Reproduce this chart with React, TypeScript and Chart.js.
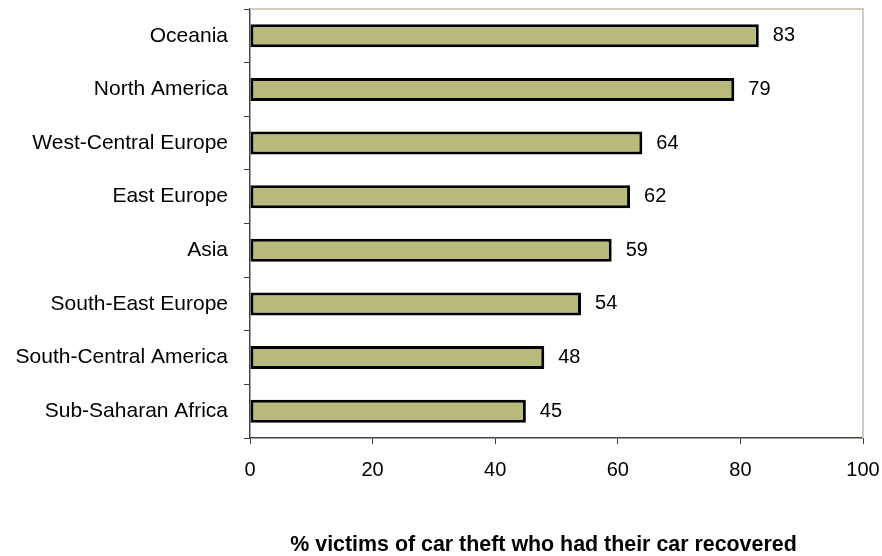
import React, { useEffect, useRef } from "react";
import { Chart, registerables } from "chart.js";

Chart.register(...registerables);

const regions = [
  "Oceania",
  "North America",
  "West-Central Europe",
  "East Europe",
  "Asia",
  "South-East Europe",
  "South-Central America",
  "Sub-Saharan Africa",
];
const recovered = [83, 79, 64, 62, 59, 54, 48, 45];
const xTitle = "% victims of car theft who had their car recovered";

const FONT = "'Liberation Sans', Arial, sans-serif";

const valueLabels = {
  id: "valueLabels",
  afterDatasetsDraw(chart: any) {
    const ctx = chart.ctx;
    const meta = chart.getDatasetMeta(0);
    ctx.save();
    ctx.font = `20px ${FONT}`;
    ctx.fillStyle = "#000";
    ctx.textAlign = "left";
    ctx.textBaseline = "middle";
    meta.data.forEach((bar: any, i: number) => {
      ctx.fillText(String(chart.data.datasets[0].data[i]), bar.x + 14, bar.y);
    });
    ctx.restore();
  },
};

const frame = {
  id: "frame",
  beforeDatasetsDraw(chart: any) {
    const { ctx, chartArea } = chart;
    ctx.save();
    ctx.strokeStyle = "#d3cbc1";
    ctx.lineWidth = 2;
    ctx.beginPath();
    ctx.moveTo(chartArea.left, chartArea.top);
    ctx.lineTo(chartArea.right, chartArea.top);
    ctx.lineTo(chartArea.right, chartArea.bottom);
    ctx.stroke();
    ctx.restore();
  },
};

const axisTitle = {
  id: "axisTitle",
  afterDraw(chart: any) {
    const { ctx, chartArea } = chart;
    ctx.save();
    ctx.font = `bold 21.4px ${FONT}`;
    ctx.fillStyle = "#000";
    ctx.textAlign = "center";
    ctx.textBaseline = "middle";
    ctx.fillText(xTitle, (chartArea.left + chartArea.right) / 2 - 13, chart.height - 11);
    ctx.restore();
  },
};

export default function App() {
  const ref = useRef<HTMLCanvasElement>(null);
  useEffect(() => {
    if (!ref.current) return;
    const chart = new Chart(ref.current, {
      type: "bar",
      data: {
        labels: regions,
        datasets: [
          {
            data: recovered,
            backgroundColor: "#b8ba7c",
            borderColor: "#000",
            borderWidth: 3,
            borderSkipped: false,
            barPercentage: 0.43,
            categoryPercentage: 1,
          },
        ],
      },
      options: {
        indexAxis: "y",
        responsive: false,
        animation: false,
        layout: { padding: { top: 9, right: 19, left: 0, bottom: 0 } },
        plugins: {
          legend: { display: false },
          tooltip: { enabled: false },
        },
        scales: {
          x: {
            min: 0,
            max: 100,
            ticks: {
              stepSize: 20,
              color: "#000",
              font: { family: FONT, size: 20 },
              padding: 14,
            },
            grid: {
              drawOnChartArea: false,
              drawTicks: true,
              tickLength: 6,
              color: "#3f3a36",
            },
            border: { color: "#4a433e", width: 1.5 },
            afterFit(scale: any) {
              scale.height = 118;
              scale.paddingLeft = 0;
              scale.paddingRight = 0;
            },
          },
          y: {
            ticks: {
              color: "#000",
              font: { family: FONT, size: 21 },
              padding: 16,
            },
            grid: {
              drawOnChartArea: false,
              drawTicks: true,
              tickLength: 6,
              offset: true,
              color: "#3f3a36",
            },
            border: { color: "#4a433e", width: 1.5 },
            afterFit(scale: any) {
              scale.width = 250;
              scale.paddingTop = 0;
              scale.paddingBottom = 0;
            },
          },
        },
      },
      plugins: [frame, valueLabels, axisTitle],
    });
    return () => chart.destroy();
  }, []);
  return (
    <div style={{ position: "fixed", left: 0, top: 0, width: 882, height: 556, background: "#fff" }}>
      <canvas ref={ref} width={882} height={556} style={{ display: "block" }} />
    </div>
  );
}
